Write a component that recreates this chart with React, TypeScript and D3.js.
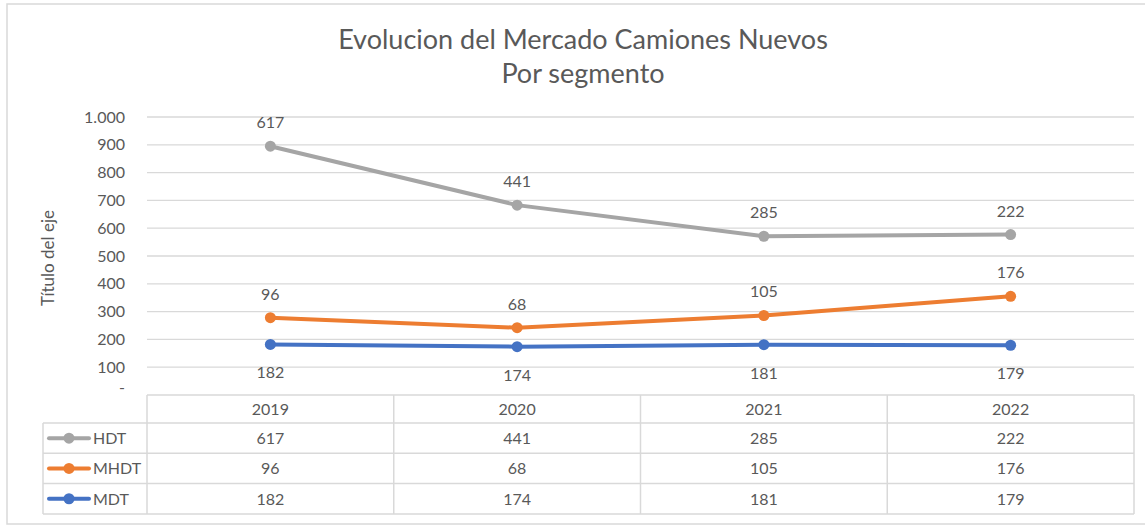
import React from "react";
import * as d3 from "d3";

const years = ["2019", "2020", "2021", "2022"];
const seriesNames = ["HDT", "MHDT", "MDT"];
const hdt = [617, 441, 285, 222];
const mhdt = [96, 68, 105, 176];
const mdt = [182, 174, 181, 179];
const yTicks = [0, 100, 200, 300, 400, 500, 600, 700, 800, 900, 1000];
const colors: Record<string, string> = { HDT: "#A5A5A5", MHDT: "#ED7D31", MDT: "#4472C4" };

const W = 1145;
const H = 525;
const FONT = "Lato, 'Open Sans', sans-serif";
const TXT = "#595959";
const GRID = "#D9D9D9";

export default function App() {
  const rows = years.map((y, i) => ({ year: y, HDT: hdt[i], MHDT: mhdt[i], MDT: mdt[i] }));
  // stacked line: MDT bottom, MHDT, HDT top
  const stack = d3.stack<any>().keys(["MDT", "MHDT", "HDT"]);
  const stacked = stack(rows);
  const valuesByName: Record<string, number[]> = { HDT: hdt, MHDT: mhdt, MDT: mdt };

  const plotLeft = 147;
  const plotRight = 1134;
  const x = d3.scaleBand<string>().domain(years).range([plotLeft, plotRight]);
  const y = d3.scaleLinear().domain([0, 1000]).range([395, 117]);
  const loc = d3.formatLocale({ decimal: ",", thousands: ".", grouping: [3], currency: ["", ""] });
  const fmt = loc.format(",d");

  const line = d3
    .line<[number, number]>()
    .x((_, i) => (x(years[i]) as number) + x.bandwidth() / 2)
    .y((d) => y(d[1]));

  const tableTop = 395;
  const headerBottom = 423;
  const rowH = 30.3;
  const tableLeft = 43;
  const FS = 16;

  return (
    <svg width={W} height={H} style={{ position: "absolute", left: 0, top: 0, background: "#fff" }}>
      <rect x={7} y={4} width={1150} height={520} fill="#fff" stroke={GRID} strokeWidth={1.5} />
      <text x={583} y={49} textAnchor="middle" fontFamily={FONT} fontSize={27} fill={TXT}>
        Evolucion del Mercado Camiones Nuevos
      </text>
      <text x={583} y={83} textAnchor="middle" fontFamily={FONT} fontSize={27} fill={TXT}>
        Por segmento
      </text>
      {/* gridlines */}
      {yTicks.map((t) =>
        t === 0 ? null : (
          <line key={t} x1={plotLeft} x2={plotRight} y1={y(t)} y2={y(t)} stroke={GRID} strokeWidth={1.3} />
        )
      )}
      {yTicks.map((t) => (
        <text
          key={"l" + t}
          x={125}
          y={t === 0 ? y(t) - 2 : y(t) + 5.5}
          textAnchor="end"
          fontFamily={FONT}
          fontSize={FS}
          fill={TXT}
        >
          {t === 0 ? "-" : fmt(t)}
        </text>
      ))}
      <text
        transform={`translate(54,${258}) rotate(-90)`}
        textAnchor="middle"
        fontFamily={FONT}
        fontSize={FS + 1}
        fill={TXT}
      >
        Título del eje
      </text>
      {/* lines */}
      {stacked
        .slice()
        .reverse()
        .map((s) => {
          const name = s.key as string;
          const pts = s.map((d) => [d[0], d[1]] as [number, number]);
          return (
            <g key={name}>
              <path d={line(pts) || ""} fill="none" stroke={colors[name]} strokeWidth={4} strokeLinecap="round" />
              {pts.map((p, i) => (
                <circle
                  key={i}
                  cx={(x(years[i]) as number) + x.bandwidth() / 2}
                  cy={y(p[1])}
                  r={5.5}
                  fill={colors[name]}
                />
              ))}
              {pts.map((p, i) => (
                <text
                  key={"t" + i}
                  x={(x(years[i]) as number) + x.bandwidth() / 2}
                  y={name === "MDT" ? y(p[1]) + 34 : y(p[1]) - 18}
                  textAnchor="middle"
                  fontFamily={FONT}
                  fontSize={FS}
                  fill={TXT}
                >
                  {valuesByName[name][i]}
                </text>
              ))}
            </g>
          );
        })}
      {/* data table */}
      <g stroke={GRID} strokeWidth={1.5} fill="none">
        <line x1={plotLeft} x2={plotRight} y1={tableTop} y2={tableTop} />
        <line x1={tableLeft} x2={plotRight} y1={headerBottom} y2={headerBottom} />
        {seriesNames.map((n, i) => (
          <line
            key={n}
            x1={tableLeft}
            x2={plotRight}
            y1={headerBottom + rowH * (i + 1)}
            y2={headerBottom + rowH * (i + 1)}
          />
        ))}
        <line x1={tableLeft} x2={tableLeft} y1={headerBottom} y2={headerBottom + rowH * 3} />
        {years.map((yr) => (
          <line
            key={yr}
            x1={x(yr) as number}
            x2={x(yr) as number}
            y1={tableTop}
            y2={headerBottom + rowH * 3}
          />
        ))}
        <line x1={plotRight} x2={plotRight} y1={tableTop} y2={headerBottom + rowH * 3} />
      </g>
      {years.map((yr) => (
        <text
          key={yr}
          x={(x(yr) as number) + x.bandwidth() / 2}
          y={(tableTop + headerBottom) / 2 + 6}
          textAnchor="middle"
          fontFamily={FONT}
          fontSize={FS}
          fill={TXT}
        >
          {yr}
        </text>
      ))}
      {seriesNames.map((n, r) => {
        const cy = headerBottom + rowH * r + rowH / 2;
        return (
          <g key={n}>
            <line x1={49} x2={89} y1={cy} y2={cy} stroke={colors[n]} strokeWidth={4} strokeLinecap="round" />
            <circle cx={69} cy={cy} r={5.5} fill={colors[n]} />
            <text x={93} y={cy + 6} fontFamily={FONT} fontSize={FS} fill={TXT}>
              {n}
            </text>
            {years.map((yr, i) => (
              <text
                key={yr}
                x={(x(yr) as number) + x.bandwidth() / 2}
                y={cy + 6}
                textAnchor="middle"
                fontFamily={FONT}
                fontSize={FS}
                fill={TXT}
              >
                {valuesByName[n][i]}
              </text>
            ))}
          </g>
        );
      })}
    </svg>
  );
}
